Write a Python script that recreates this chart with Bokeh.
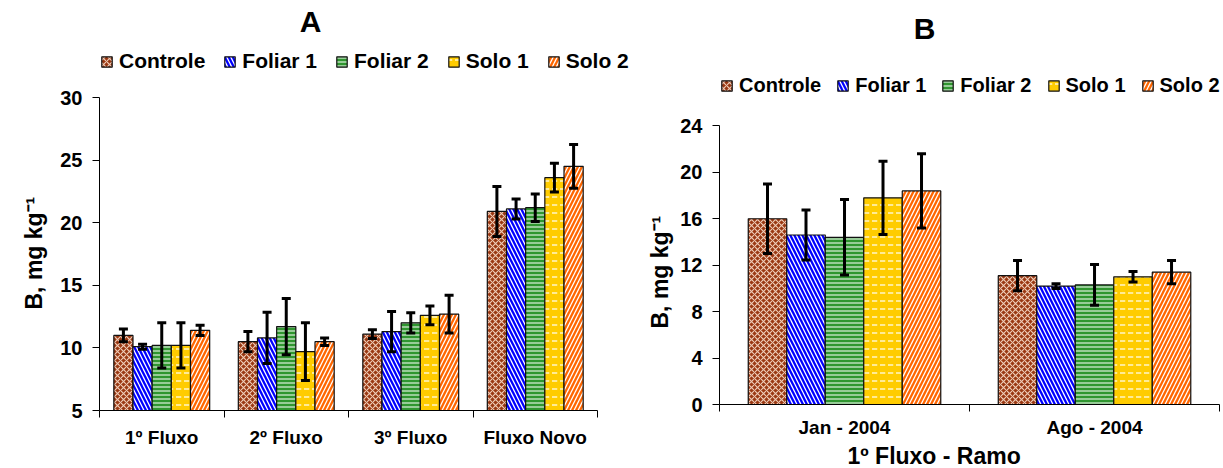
from bokeh.plotting import figure
from bokeh.models import (Range1d, FixedTicker, Whisker, TeeHead, ColumnDataSource,
                          Legend, LegendItem, Title, Label)
from bokeh.layouts import row, column
from bokeh.embed import file_html
from bokeh.resources import INLINE

# ---------------- data ----------------
series = ["Controle", "Foliar 1", "Foliar 2", "Solo 1", "Solo 2"]

cats_a = ["1º Fluxo", "2º Fluxo", "3º Fluxo", "Fluxo Novo"]
a_controle = [11.0, 10.5, 11.1, 20.9]
a_foliar1 = [10.1, 10.8, 11.3, 21.1]
a_foliar2 = [10.2, 11.7, 12.0, 21.2]
a_solo1 = [10.2, 9.7, 12.6, 23.6]
a_solo2 = [11.4, 10.5, 12.7, 24.5]
a_controle_err = [0.5, 0.8, 0.35, 2.0]
a_foliar1_err = [0.2, 2.05, 1.6, 0.8]
a_foliar2_err = [1.8, 2.25, 0.8, 1.1]
a_solo1_err = [1.8, 2.3, 0.75, 1.15]
a_solo2_err = [0.4, 0.3, 1.5, 1.75]
a_ticks = [5, 10, 15, 20, 25, 30]

cats_b = ["Jan - 2004", "Ago - 2004"]
b_controle = [16.0, 11.1]
b_foliar1 = [14.6, 10.2]
b_foliar2 = [14.4, 10.3]
b_solo1 = [17.8, 11.0]
b_solo2 = [18.4, 11.4]
b_controle_err = [3.0, 1.3]
b_foliar1_err = [2.15, 0.2]
b_foliar2_err = [3.25, 1.75]
b_solo1_err = [3.15, 0.45]
b_solo2_err = [3.2, 1.0]
b_ticks = [0, 4, 8, 12, 16, 20, 24]

ylabel = "B,  mg kg⁻¹"
xlabel_b = "1º Fluxo - Ramo"

# ---------------- styles ----------------
FONT = "Liberation Sans"
styles = [
    dict(fill_color="#9A3812", hatch_pattern="diagonal_cross", hatch_color="#EFCDB8", hatch_scale=6, hatch_weight=1.1),
    dict(fill_color="#0000FF", hatch_pattern="left_diagonal_line", hatch_color="#FFFFFF", hatch_scale=8, hatch_weight=1.3),
    dict(fill_color="#2F962F", hatch_pattern="horizontal_line", hatch_color="#CFEACF", hatch_scale=4, hatch_weight=1.3),
    dict(fill_color="#FFCC00", hatch_pattern="horizontal_dash", hatch_color="#FFF6C8", hatch_scale=8, hatch_weight=1.5),
    dict(fill_color="#FF6600", hatch_pattern="right_diagonal_line", hatch_color="#FFFFFF", hatch_scale=8, hatch_weight=1.3),
]


def make_chart(title, cats, values, errors, ymin, ymax, yticks, width, height,
               left, bottom, plot_right, plot_top,
               title_x, title_y, legend_x, legend_y, legend_font, legend_spacing,
               ylabel_offset, ylabel_standoff, xtick_standoff,
               xlabel=None, xlabel_offset=0):
    n = len(cats)
    frame_w = width - left
    frame_h = height - bottom
    # extend ranges so that title and legend sit inside the frame,
    # axes are bounded to the real data extent
    x_end = n * frame_w / (plot_right - left)
    y_end = ymin + (ymax - ymin) * frame_h / (height - bottom - plot_top)
    p = figure(width=width, height=height, x_range=Range1d(0, x_end),
               y_range=Range1d(ymin, y_end),
               output_backend="svg", toolbar_location=None,
               min_border_left=left, min_border_right=0, min_border_top=0,
               min_border_bottom=bottom)
    p.outline_line_color = None
    p.xgrid.visible = False
    p.ygrid.visible = False

    ns = len(values)
    group = 0.77
    bw = group / ns
    items = []
    for j, (vals, errs) in enumerate(zip(values, errors)):
        off = (j - (ns - 1) / 2) * bw
        xs = [i + 0.5 + off for i in range(n)]
        src = ColumnDataSource(dict(
            x=xs, top=vals,
            upper=[v + e for v, e in zip(vals, errs)],
            lower=[v - e for v, e in zip(vals, errs)],
        ))
        r = p.vbar(x="x", top="top", bottom=ymin, width=bw, source=src,
                   line_color="#111111", line_width=1.2, **styles[j])
        items.append(LegendItem(label=series[j], renderers=[r]))
        w = Whisker(source=src, base="x", upper="upper", lower="lower",
                    line_color="black", line_width=3, level="overlay",
                    upper_head=TeeHead(size=9, line_width=3, line_color="black"),
                    lower_head=TeeHead(size=9, line_width=3, line_color="black"))
        p.add_layout(w)

    legend = Legend(items=items, orientation="horizontal", location=(legend_x, legend_y),
                    glyph_width=13, glyph_height=13, label_standoff=6, spacing=legend_spacing,
                    padding=0, margin=0, label_height=20,
                    label_text_font=FONT, label_text_font_size=legend_font,
                    label_text_font_style="bold", label_text_color="black",
                    border_line_color=None, background_fill_alpha=0)
    p.add_layout(legend, "center")
    p.add_layout(Label(x=title_x, y=title_y, x_units="screen", y_units="screen", text=title,
                       text_align="center", text_baseline="middle", text_font=FONT,
                       text_font_size="30px", text_font_style="bold", text_color="black"))

    xa = p.xaxis[0]
    xa.bounds = (0, n)
    xa.ticker = FixedTicker(ticks=[i + 0.5 for i in range(n)], minor_ticks=list(range(n + 1)))
    xa.major_label_overrides = {i + 0.5: c for i, c in enumerate(cats)}
    xa.major_tick_line_color = None
    xa.major_tick_in = 0
    xa.major_tick_out = 0
    xa.minor_tick_in = 0
    xa.minor_tick_out = 7
    xa.minor_tick_line_color = "black"
    xa.axis_line_color = "black"
    xa.major_label_standoff = xtick_standoff
    xa.major_label_text_font = FONT
    xa.major_label_text_font_size = "19px"
    xa.major_label_text_font_style = "bold"
    xa.major_label_text_color = "black"

    ya = p.yaxis[0]
    ya.bounds = (ymin, ymax)
    ya.ticker = FixedTicker(ticks=yticks)
    ya.minor_tick_line_color = None
    ya.major_tick_in = 0
    ya.major_tick_out = 7
    ya.major_tick_line_color = "black"
    ya.axis_line_color = "black"
    ya.major_label_standoff = 10
    ya.major_label_text_font = FONT
    ya.major_label_text_font_size = "20px"
    ya.major_label_text_font_style = "bold"
    ya.major_label_text_color = "black"

    p.add_layout(Title(text=ylabel, align="left", offset=ylabel_offset, standoff=ylabel_standoff,
                       text_font=FONT, text_font_size="23px", text_font_style="bold",
                       text_color="black"), "left")

    if xlabel:
        p.add_layout(Title(text=xlabel, align="left", offset=xlabel_offset, standoff=0,
                           text_font=FONT, text_font_size="23px", text_font_style="bold",
                           text_color="black"), "below")
    return p


pa = make_chart("A", cats_a,
                [a_controle, a_foliar1, a_foliar2, a_solo1, a_solo2],
                [a_controle_err, a_foliar1_err, a_foliar2_err, a_solo1_err, a_solo2_err],
                5, 30, a_ticks, 640, 468, left=99, bottom=58, plot_right=597, plot_top=97,
                title_x=211, title_y=389, legend_x=1, legend_y=337, legend_font="21px",
                legend_spacing=18, ylabel_offset=101, ylabel_standoff=21, xtick_standoff=9)

pb = make_chart("B", cats_b,
                [b_controle, b_foliar1, b_foliar2, b_solo1, b_solo2],
                [b_controle_err, b_foliar1_err, b_foliar2_err, b_solo1_err, b_solo2_err],
                0, 24, b_ticks, 583, 468, left=75, bottom=62, plot_right=579, plot_top=126,
                title_x=205, title_y=376, legend_x=1, legend_y=307, legend_font="20px",
                legend_spacing=15, ylabel_offset=76, ylabel_standoff=9, xtick_standoff=5,
                xlabel=xlabel_b, xlabel_offset=128)

layout = row(column(pa), column(pb))
open("out.html", "w").write(file_html(layout, INLINE))
